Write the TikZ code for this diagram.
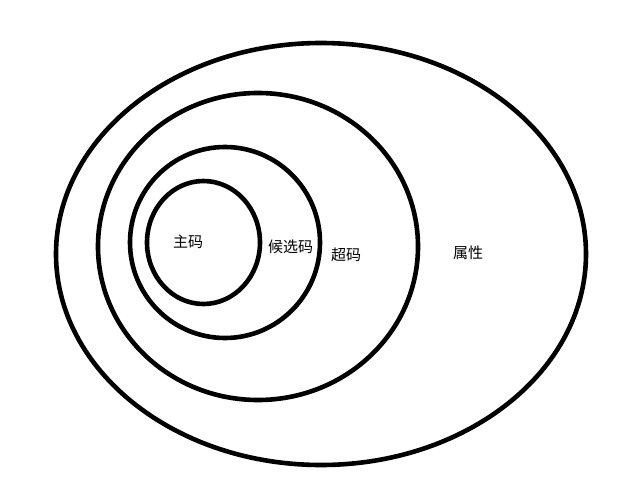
\documentclass[tikz,border=0pt]{standalone}
\usepackage{fontspec}
\usepackage{tikz}
\newfontfamily\cjk{Noto Sans CJK SC}

\begin{document}
\begin{tikzpicture}[x=1pt, y=-1pt, line width=4.6pt]
    \useasboundingbox (0, 0) rectangle (625, 498) ;
\draw (321, 254) ellipse (265 and 211) ; % Attr
\draw (258, 246.5) ellipse (160 and 153.5) ; % Super
\draw (225, 242.5) ellipse (95 and 95.5) ; % Cand
\draw (203.5, 242.5) ellipse (56.5 and 61.5) ; % Primary
\node[font=\cjk\fontsize{15}{17}\selectfont, inner sep=0pt] (primary) at (188, 242) {主码}; % Primary
\node[font=\cjk\fontsize{15}{17}\selectfont, inner sep=0pt] (cand) at (290.5, 246.5) {候选码}; % Cand
\node[font=\cjk\fontsize{15}{17}\selectfont, inner sep=0pt] (super) at (346, 255) {超码}; % Super
\node[font=\cjk\fontsize{15}{17}\selectfont, inner sep=0pt] (attr) at (468, 253) {属性}; % Attr

    \end{tikzpicture}
\end{document}
